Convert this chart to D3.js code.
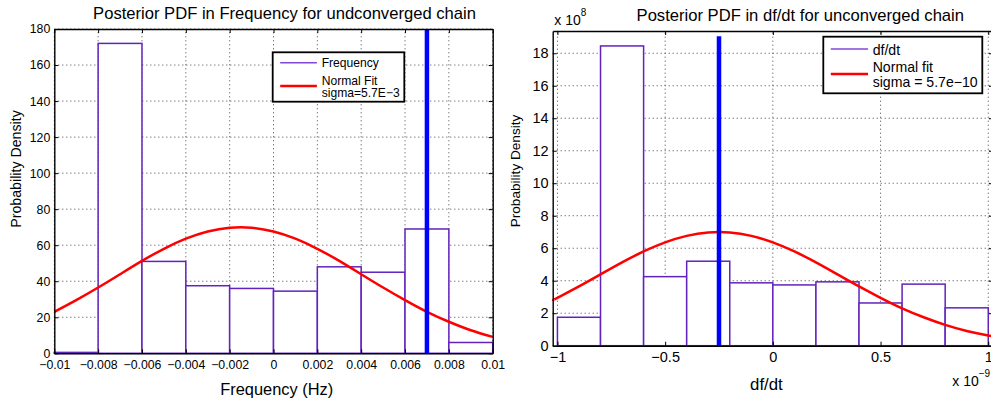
<!DOCTYPE html>
<html lang="en">
<head>
<meta charset="UTF-8">
<title>Posterior PDFs for unconverged chain</title>
<style>
body { margin: 0; background: #fff; }
svg text { font-family: "Liberation Sans", Arial, Helvetica, sans-serif; fill: #000; }
.grid line { stroke: #444; stroke-width: 1; stroke-dasharray: 1,3; }
</style>
</head>
<body>
<div id="chart"></div>
<script src="https://cdn.jsdelivr.net/npm/d3@7/dist/d3.min.js"></script>
<script>
// ---------- left panel: frequency (Hz) ----------
const freqBinEdges = [-0.01, -0.008, -0.006, -0.004, -0.002, 0, 0.002, 0.004, 0.006, 0.008, 0.01];
const freqDensity  = [0.5, 172, 51, 37.5, 36, 34.5, 48, 45, 69, 6];
const freqFitX = [-0.01, -0.009, -0.008, -0.007, -0.006, -0.005, -0.004, -0.003, -0.002, -0.001, 0,
                  0.001, 0.002, 0.003, 0.004, 0.005, 0.006, 0.007, 0.008, 0.009, 0.01];
const freqFitY = [23.0, 29.5, 36.5, 43.9, 51.3, 58.0, 63.6, 67.6, 69.7, 69.7, 67.6,
                  63.6, 58.0, 51.3, 43.9, 36.5, 29.5, 23.0, 17.5, 12.8, 9.1];
const freqTrue = 0.007;
const freqTrueTop = 180;
const freqXTicks = [-0.01, -0.008, -0.006, -0.004, -0.002, 0, 0.002, 0.004, 0.006, 0.008, 0.01];
const freqXTickLabels = ["\u22120.01", "\u22120.008", "\u22120.006", "\u22120.004", "\u22120.002", "0",
                         "0.002", "0.004", "0.006", "0.008", "0.01"];
const freqYTicks = [0, 20, 40, 60, 80, 100, 120, 140, 160, 180];

// ---------- right panel: df/dt (x in 1e-9, y in 1e8) ----------
const fdotBinEdges = [-1, -0.8, -0.6, -0.4, -0.2, 0, 0.2, 0.4, 0.6, 0.8, 1];
const fdotDensity  = [1.75, 18.45, 4.25, 5.2, 3.87, 3.74, 3.93, 2.63, 3.79, 2.33];
const fdotFitX = [-1.02, -1, -0.9, -0.8, -0.7, -0.6, -0.5, -0.4, -0.3, -0.2, -0.1, 0,
                  0.1, 0.2, 0.3, 0.4, 0.5, 0.6, 0.7, 0.8, 0.9, 1, 1.02];
const fdotFitY = [2.83, 2.95, 3.65, 4.39, 5.13, 5.80, 6.36, 6.76, 6.97, 6.97, 6.76, 6.36,
                  5.80, 5.13, 4.39, 3.65, 2.95, 2.30, 1.75, 1.28, 0.91, 0.63, 0.585];
const fdotTrue = -0.25;
const fdotTrueTop = 19.05;
const fdotXTicks = [-1, -0.5, 0, 0.5, 1];
const fdotXTickLabels = ["\u22121", "\u22120.5", "0", "0.5", "1"];
const fdotYTicks = [0, 2, 4, 6, 8, 10, 12, 14, 16, 18];

const W = 991, H = 403;
const histColor = "#6223bd";

const svg = d3.select("#chart").append("svg")
  .attr("width", W)
  .attr("height", H);

function drawPanel(p) {
  const x = d3.scaleLinear().domain(p.xDomain).range([p.left, p.right]);
  const y = d3.scaleLinear().domain(p.yDomain).range([p.bottom, p.top]);
  const g = svg.append("g");

  // dotted grid
  const grid = g.append("g").attr("class", "grid");
  grid.selectAll(".gx").data(p.xTicks).join("line")
    .attr("x1", d => x(d)).attr("x2", d => x(d))
    .attr("y1", p.bottom).attr("y2", p.top);
  grid.selectAll(".gy").data(p.yTicks).join("line")
    .attr("x1", p.left).attr("x2", p.right)
    .attr("y1", d => y(d)).attr("y2", d => y(d));

  // histogram bars (white fill hides the grid)
  g.append("g").selectAll("rect")
    .data(p.density)
    .join("rect")
    .attr("x", (d, i) => x(p.edges[i]))
    .attr("width", (d, i) => x(p.edges[i + 1]) - x(p.edges[i]))
    .attr("y", d => y(d))
    .attr("height", d => y(0) - y(d))
    .attr("fill", "#fff")
    .attr("stroke", histColor)
    .attr("stroke-width", 1.5);

  // normal fit
  const line = d3.line()
    .x(d => x(d[0]))
    .y(d => y(d[1]))
    .curve(d3.curveNatural);
  g.append("path")
    .datum(p.fitX.map((v, i) => [v, p.fitY[i]]))
    .attr("d", line)
    .attr("fill", "none")
    .attr("stroke", "#f00")
    .attr("stroke-width", 2.5);

  // true value
  g.append("line")
    .attr("x1", x(p.trueX)).attr("x2", x(p.trueX))
    .attr("y1", y(0)).attr("y2", y(p.trueTop))
    .attr("stroke", "#0000ff")
    .attr("stroke-width", 4.5);

  // axes, ticks pointing inward like matlab
  const fs = p.tickFont;
  const ax = g.append("g")
    .attr("transform", `translate(0,${p.bottom})`)
    .call(d3.axisBottom(x).tickValues(p.xTicks)
      .tickFormat((d, i) => p.xTickLabels[i])
      .tickSizeInner(-4).tickSizeOuter(0).tickPadding(p.xPad));
  const ay = g.append("g")
    .attr("transform", `translate(${p.left},0)`)
    .call(d3.axisLeft(y).tickValues(p.yTicks)
      .tickSizeInner(-4).tickSizeOuter(0).tickPadding(4));
  g.append("g")
    .attr("transform", `translate(0,${p.top})`)
    .call(d3.axisTop(x).tickValues(p.xTicks).tickFormat("")
      .tickSizeInner(-4).tickSizeOuter(0));
  g.append("g")
    .attr("transform", `translate(${p.right},0)`)
    .call(d3.axisRight(y).tickValues(p.yTicks).tickFormat("")
      .tickSizeInner(-4).tickSizeOuter(0));
  g.selectAll(".domain").attr("stroke", "#000").attr("stroke-width", 1.4);
  g.selectAll(".tick line").attr("stroke", "#000");
  ax.selectAll("text").attr("font-size", fs);
  ay.selectAll("text").attr("font-size", fs);

  // titles and labels
  g.append("text")
    .attr("x", p.titleX).attr("y", p.titleY)
    .attr("text-anchor", "middle")
    .attr("font-size", 16.6)
    .text(p.title);
  g.append("text")
    .attr("x", p.xLabelX).attr("y", p.xLabelY)
    .attr("text-anchor", "middle")
    .attr("font-size", p.xLabelFont)
    .text(p.xLabel);
  g.append("text")
    .attr("transform", `translate(${p.yLabelX},${p.yLabelY}) rotate(-90)`)
    .attr("text-anchor", "middle")
    .attr("font-size", p.yLabelFont)
    .text("Probability Density");

  // legend
  const L = p.legend;
  const lg = g.append("g");
  lg.append("rect")
    .attr("x", L.x).attr("y", L.y)
    .attr("width", L.w).attr("height", L.h)
    .attr("fill", "#fff")
    .attr("stroke", "#000")
    .attr("stroke-width", 1.8);
  lg.append("line")
    .attr("x1", L.x + 7.5).attr("x2", L.x + 7.5 + L.lineLen)
    .attr("y1", L.row1).attr("y2", L.row1)
    .attr("stroke", "#8347d6").attr("stroke-width", 1.5);
  lg.append("line")
    .attr("x1", L.x + 7.5).attr("x2", L.x + 7.5 + L.lineLen)
    .attr("y1", L.row2).attr("y2", L.row2)
    .attr("stroke", "#f00").attr("stroke-width", 2.5);
  L.texts.forEach(t => {
    lg.append("text")
      .attr("x", L.textX).attr("y", t[1])
      .attr("font-size", L.font)
      .text(t[0]);
  });

  return { x, y, g };
}

drawPanel({
  xDomain: [-0.01, 0.01], yDomain: [0, 180],
  left: 54.3, right: 492.7, top: 29, bottom: 353.3,
  edges: freqBinEdges, density: freqDensity,
  fitX: freqFitX, fitY: freqFitY,
  trueX: freqTrue, trueTop: freqTrueTop,
  xTicks: freqXTicks, xTickLabels: freqXTickLabels, yTicks: freqYTicks,
  tickFont: 12.3, xPad: 6.5,
  title: "Posterior PDF in Frequency for undconverged chain", titleX: 284.5, titleY: 18.5,
  xLabel: "Frequency (Hz)", xLabelX: 276.7, xLabelY: 394.5, xLabelFont: 16.4,
  yLabelX: 20.5, yLabelY: 169, yLabelFont: 14.2,
  legend: {
    x: 272.7, y: 52.3, w: 131.6, h: 49.4, lineLen: 36.7, textX: 321.7, font: 12.1,
    row1: 62.7, row2: 86,
    texts: [["Frequency", 66.5], ["Normal Fit", 84.5], ["sigma=5.7E\u22123", 97]]
  }
});

const right = drawPanel({
  xDomain: [-1.022, 1.022], yDomain: [0, 19.37],
  left: 552.7, right: 993, top: 31, bottom: 345.7,
  edges: fdotBinEdges, density: fdotDensity,
  fitX: fdotFitX, fitY: fdotFitY,
  trueX: fdotTrue, trueTop: fdotTrueTop,
  xTicks: fdotXTicks, xTickLabels: fdotXTickLabels, yTicks: fdotYTicks,
  tickFont: 14.5, xPad: 6,
  title: "Posterior PDF in df/dt for unconverged chain", titleX: 800.3, titleY: 20.5,
  xLabel: "df/dt", xLabelX: 766.4, xLabelY: 390, xLabelFont: 16.8,
  yLabelX: 520, yLabelY: 171, yLabelFont: 13.6,
  legend: {
    x: 823.3, y: 36.7, w: 159, h: 56.6, lineLen: 37.3, textX: 872.7, font: 14.1,
    row1: 49, row2: 74,
    texts: [["df/dt", 55], ["Normal fit", 71.5], ["sigma = 5.7e\u221210", 86.5]]
  }
});

// exponent multipliers on the right panel
const m1 = right.g.append("text").attr("x", 554.3).attr("y", 25).attr("font-size", 14);
m1.append("tspan").text("x 10");
m1.append("tspan").attr("dy", -9).attr("font-size", 10).text("8");

const m2 = right.g.append("text").attr("x", 952.3).attr("y", 386).attr("font-size", 14);
m2.append("tspan").text("x 10");
m2.append("tspan").attr("dy", -9).attr("font-size", 10).text("\u22129");
</script>
</body>
</html>
